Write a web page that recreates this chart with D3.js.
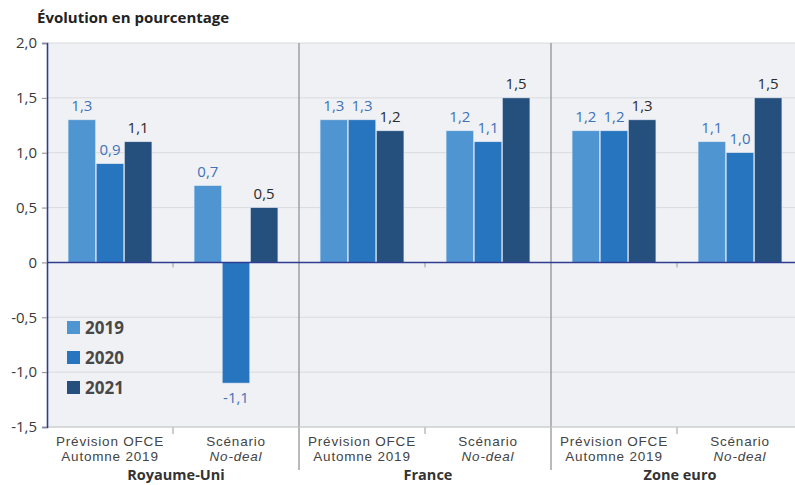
<!DOCTYPE html>
<html>
<head>
<meta charset="utf-8">
<script src="https://cdn.jsdelivr.net/npm/d3@7"></script>
<style>
  body { margin: 0; background: #fff; }
  text { font-family: "Open Sans", "Noto Sans", sans-serif; }
</style>
</head>
<body>
<div id="chart"></div>
<script>
// data
var countries = ["Royaume-Uni", "France", "Zone euro"];
var scenarios = ["prev", "nodeal"];
var years = ["2019", "2020", "2021"];
var ukValues = [[1.3, 0.9, 1.1], [0.7, -1.1, 0.5]];
var frValues = [[1.3, 1.3, 1.2], [1.2, 1.1, 1.5]];
var zeValues = [[1.2, 1.2, 1.3], [1.1, 1.0, 1.5]];
var yTicks = [-1.5, -1, -0.5, 0, 0.5, 1, 1.5, 2];
var colors = ["#4f95d1", "#2675be", "#25507d"];
var labelColors = ["#3f72b8", "#3f72b8", "#2b2b2b"];

var allValues = [ukValues, frValues, zeValues];

var W = 795, H = 485;
var margin = {top: 43, right: -8, bottom: 58, left: 47};
var width = W - margin.left - margin.right,
    height = H - margin.top - margin.bottom;

var svg = d3.select("#chart").append("svg")
    .attr("width", W).attr("height", H);

var g = svg.append("g")
    .attr("transform", "translate(" + margin.left + "," + margin.top + ")");

// french number format, plain hyphen for negatives
var fmt = function (v) {
    if (v === 0) return "0";
    return d3.format(".1f")(v).replace(".", ",").replace("\u2212", "-");
};

var y = d3.scaleLinear().domain([-1.5, 2]).range([height, 0]);

var x0 = d3.scaleBand().domain(countries).range([0, width]).padding(0);
var x1 = d3.scaleBand().domain(scenarios).range([0, x0.bandwidth()]).padding(0);
var x2 = d3.scaleBand().domain(years).range([0, 85]).padding(0.02);

// background
g.append("rect").attr("width", width).attr("height", height).attr("fill", "#f0f1f4");

// gridlines
g.selectAll(".grid").data(yTicks.filter(function (d) { return d !== 0; }))
    .enter().append("line")
    .attr("x1", 0).attr("x2", width)
    .attr("y1", function (d) { return y(d); }).attr("y2", function (d) { return y(d); })
    .attr("stroke", "#d9dadd").attr("stroke-width", 1);

// group separators
g.selectAll(".sep").data(countries.slice(1))
    .enter().append("line")
    .attr("x1", function (d) { return x0(d); }).attr("x2", function (d) { return x0(d); })
    .attr("y1", 0).attr("y2", height + 43)
    .attr("stroke", "#8c8c8c").attr("stroke-width", 1.2);

// sub-group ticks
countries.forEach(function (c) {
    var xm = x0(c) + x1("nodeal");
    g.append("line").attr("x1", xm).attr("x2", xm)
        .attr("y1", y(0)).attr("y2", y(0) + 5)
        .attr("stroke", "#999");
    g.append("line").attr("x1", xm).attr("x2", xm)
        .attr("y1", height).attr("y2", height + 7)
        .attr("stroke", "#999");
});

// bars
countries.forEach(function (c, ci) {
    scenarios.forEach(function (s, si) {
        var gx = x0(c) + x1(s) + (x1.bandwidth() - 85) / 2;
        var vals = allValues[ci][si];
        years.forEach(function (yr, yi) {
            var v = vals[yi];
            g.append("rect")
                .attr("x", gx + x2(yr))
                .attr("y", y(Math.max(0, v)))
                .attr("width", x2.bandwidth())
                .attr("height", Math.abs(y(v) - y(0)))
                .attr("fill", colors[yi])
                .attr("stroke", "#dfe8f3").attr("stroke-width", 0.6);
            g.append("text")
                .attr("x", gx + x2(yr) + x2.bandwidth() / 2)
                .attr("y", v >= 0 ? y(v) - 9 : y(v) + 20)
                .attr("text-anchor", "middle")
                .attr("font-size", "15px")
                .attr("fill", labelColors[yi])
                .text(fmt(v));
        });
    });
});

// bottom axis line
g.append("line").attr("x1", 0).attr("x2", width)
    .attr("y1", height).attr("y2", height)
    .attr("stroke", "#c8c8c8");

// zero line
g.append("line").attr("x1", 0).attr("x2", width)
    .attr("y1", y(0)).attr("y2", y(0))
    .attr("stroke", "#2e3d92").attr("stroke-width", 1.6);

// y axis
var yAxis = g.append("g")
    .call(d3.axisLeft(y).tickValues(yTicks).tickSize(5).tickFormat(fmt));
yAxis.select(".domain").attr("stroke", "#2e3d92").attr("stroke-width", 1.6);
yAxis.selectAll(".tick line").attr("stroke", "#888");
yAxis.selectAll(".tick text")
    .attr("font-size", "15px").attr("fill", "#3a3a3a").attr("x", -10);

// category labels (two lines each)
countries.forEach(function (c) {
    scenarios.forEach(function (s) {
        var cx = x0(c) + x1(s) + x1.bandwidth() / 2;
        var t = g.append("text").attr("text-anchor", "middle")
            .style("font-family", "'Liberation Sans', Arial, sans-serif")
            .attr("font-size", "13.5px").attr("letter-spacing", "0.8px").attr("fill", "#444");
        if (s === "prev") {
            t.append("tspan").attr("x", cx).attr("y", height + 18.5).text("Prévision OFCE");
            t.append("tspan").attr("x", cx).attr("y", height + 34).text("Automne 2019");
        } else {
            t.append("tspan").attr("x", cx).attr("y", height + 18.5).text("Scénario");
            t.append("tspan").attr("x", cx).attr("y", height + 34)
                .attr("font-style", "italic").text("No-deal");
        }
    });
    g.append("text")
        .attr("x", x0(c) + x0.bandwidth() / 2 + 3)
        .attr("y", height + 53)
        .attr("text-anchor", "middle")
        .attr("font-size", "14.5px").attr("font-weight", "bold").attr("fill", "#333")
        .text(c);
});

// legend
var legend = g.selectAll(".leg").data(years).enter().append("g")
    .attr("transform", function (d, i) { return "translate(20," + (278 + i * 30) + ")"; });
legend.append("rect").attr("width", 13).attr("height", 13)
    .attr("fill", function (d, i) { return colors[i]; });
legend.append("text").attr("x", 18).attr("y", 13)
    .attr("font-size", "17px").attr("font-weight", "bold").attr("fill", "#484848")
    .text(function (d) { return d; });

// title
svg.append("text").attr("x", 37).attr("y", 23)
    .attr("font-size", "15px").attr("font-weight", "bold").attr("fill", "#222")
    .text("Évolution en pourcentage");
</script>
</body>
</html>
